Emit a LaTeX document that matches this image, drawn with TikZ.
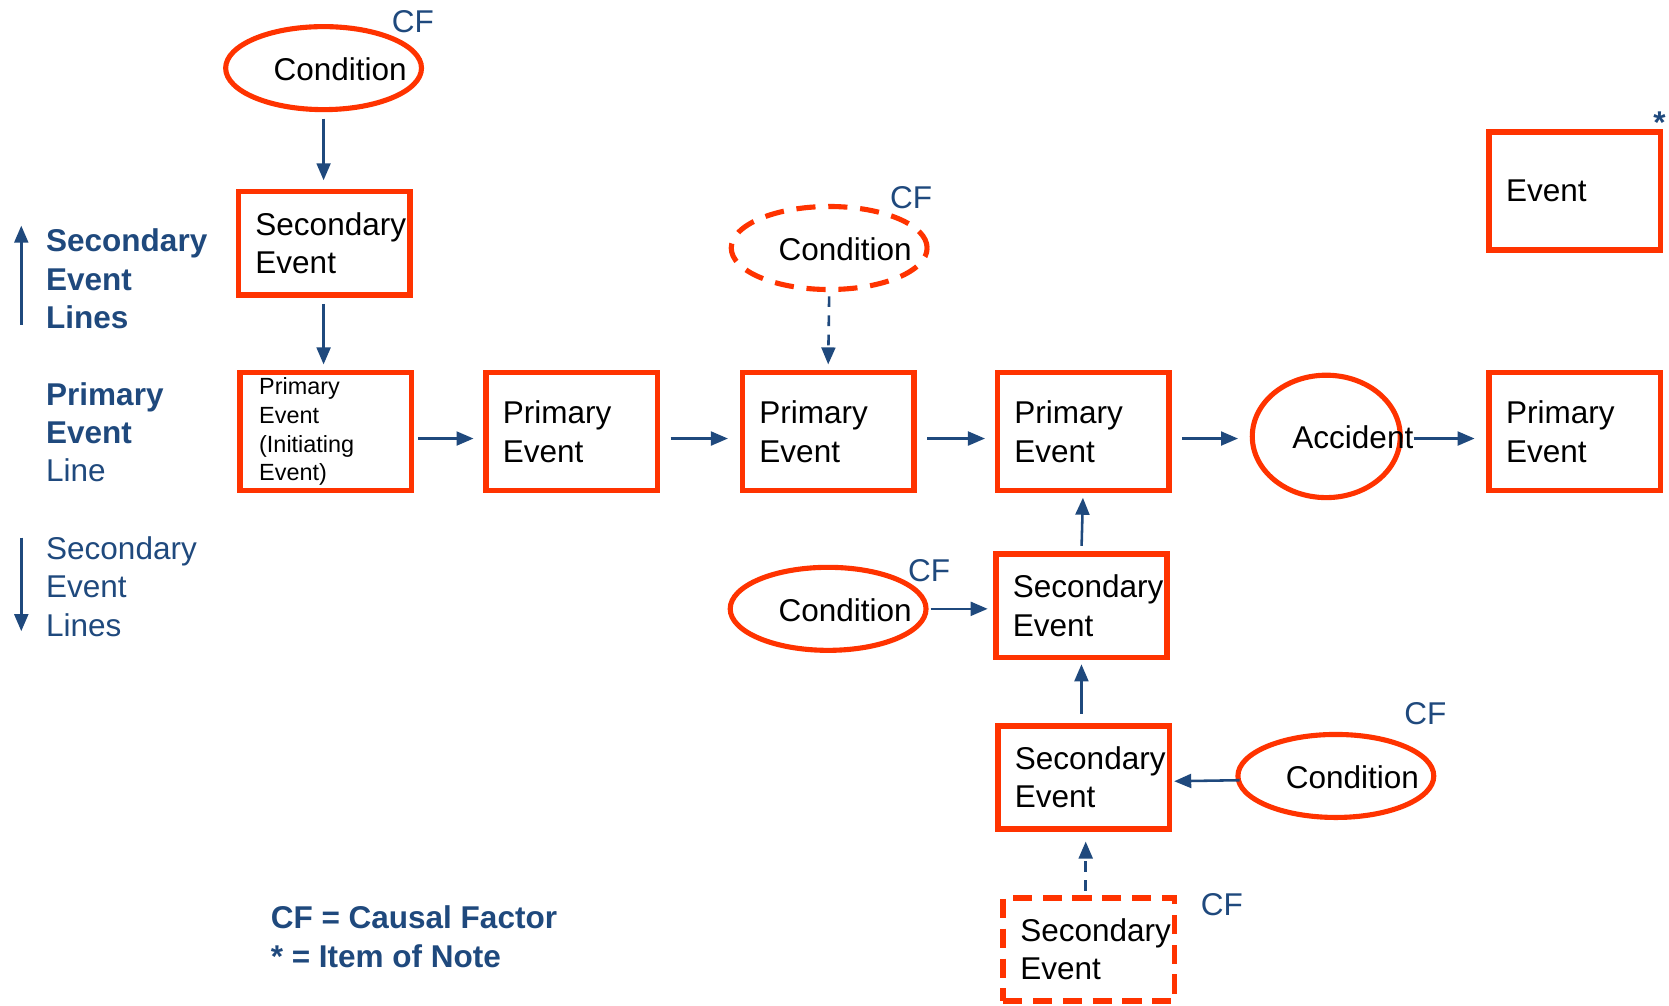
\documentclass[tikz,border=0pt]{standalone}
\usepackage{fontspec}
\setmainfont{Liberation Sans}
\usetikzlibrary{arrows.meta,shapes.geometric}
\definecolor{rcol}{RGB}{255,51,0}
\definecolor{bcol}{RGB}{31,73,125}
\begin{document}
\begin{tikzpicture}[x=0.5pt,y=-0.5pt,
  font=\fontsize{14.8pt}{18pt}\selectfont,
  evbox/.style={draw=rcol, line width=2.6pt, rectangle, minimum width=80.5pt,
    minimum height=55.5pt, text width=64.5pt, align=left, inner xsep=8pt, inner ysep=2pt},
  secbox/.style={evbox, minimum height=48.5pt},
  dashbox/.style={secbox, dash pattern=on 9pt off 5pt},
  cond/.style={draw=rcol, line width=2.4pt, ellipse, minimum width=92pt, minimum height=39pt, inner sep=0pt},
  dcond/.style={cond, dash pattern=on 9pt off 6pt},
  lbl/.style={inner sep=0pt, text=black},
  cf/.style={inner sep=0pt, text=bcol},
  leg/.style={inner sep=0pt, text=bcol, align=left, anchor=west},
  arr/.style={draw=bcol, line width=1.2pt, -{Triangle[length=8pt,width=6.5pt]}},
  darr/.style={arr, dash pattern=on 5pt off 4pt}
]
\useasboundingbox (0,0) rectangle (1568,945);

% ---- ellipses (conditions / accident)
\node[cond] (ct) at (304,64) {};
\node[lbl] (ctt) at (319.5,65) {Condition};
\node[cf] (cf1) at (388,20) {CF};

\node[dcond] (cd) at (779,233) {};
\node[lbl] (cdt) at (794,234) {Condition};
\node[cf] (cf2) at (856,186) {CF};

\node[cond] (cm) at (778,572) {};
\node[lbl] (cmt) at (794,573) {Condition};
\node[cf] (cf3) at (873,536) {CF};

\node[cond] (cr) at (1255,729) {};
\node[lbl] (crt) at (1270.5,730) {Condition};
\node[cf] (cf4) at (1339,670) {CF};

\node[cond, minimum width=69.5pt, minimum height=57.5pt] (acc) at (1246,410) {};
\node[lbl] (acct) at (1271,411) {Accident};

% ---- boxes
\node[secbox] (b0) at (304.5,228.5) {Secondary\\Event};
\node[evbox, font=\fontsize{11pt}{13.5pt}\selectfont, inner xsep=9pt, text width=62.5pt] (b1) at (306,405.5) {Primary\\Event\\(Initiating\\Event)};
\node[evbox] (b2) at (537,405.5) {Primary\\Event};
\node[evbox] (b3) at (778,405.5) {Primary\\Event};
\node[evbox] (b4) at (1017.5,405.5) {Primary\\Event};
\node[evbox] (b5) at (1479.5,405.5) {Primary\\Event};
\node[evbox] (ev) at (1479.5,179.5) {Event};
\node[cf, font=\bfseries\fontsize{14.8pt}{18pt}\selectfont] (ast) at (1559,115) {*};

\node[secbox] (sm) at (1016,569) {Secondary\\Event};
\node[secbox] (sl) at (1018,730.5) {Secondary\\Event};
\node[dashbox, minimum height=48.5pt, minimum width=80pt] (sd) at (1023,892) {Secondary\\Event};
\node[cf] (cf5) at (1148,850) {CF};

% ---- connectors
\draw[arr, shorten <=3pt, shorten >=4pt] (ct.south) -- (ct.south |- b0.north);
\draw[arr, shorten <=3pt, shorten >=2.5pt] (ct.south |- b0.south) -- (ct.south |- b1.north);
\draw[arr, shorten <=2pt, shorten >=4.5pt] ([yshift=-3.25pt]b1.east) -- ([yshift=-3.25pt]b2.west);
\draw[arr, shorten <=5pt, shorten >=5.5pt] ([yshift=-3.25pt]b2.east) -- ([yshift=-3.25pt]b3.west);
\draw[arr, shorten <=5pt, shorten >=4.5pt] ([yshift=-3.25pt]b3.east) -- ([yshift=-3.25pt]b4.west);
\draw[arr, shorten <=5pt, shorten >=5.5pt] ([yshift=-3.25pt]b4.east) -- ([yshift=-3.25pt]b4.east -| acc.west);
\draw[arr, shorten >=5.5pt] ([yshift=-0.5pt]acct.east) -- ([yshift=-0.5pt]acct.east -| b5.west);
\draw[darr, shorten <=2pt, shorten >=2.5pt] (cd.south) -- (b3.north);
\draw[arr, shorten <=2.5pt, shorten >=2pt] (sm.north) -- (b4.south);
\draw[arr, shorten <=1pt, shorten >=2.5pt] (cm.east) -- (cm.east -| sm.west);
\draw[arr, shorten <=4.5pt, shorten >=2pt] ([xshift=-1pt]sl.north) -- (sm.south);
\draw[arr, shorten >=1pt] ([yshift=-2pt,xshift=2pt]cr.west) -- ([yshift=-1.75pt]sl.east);
\draw[darr, shorten <=2pt, shorten >=4.5pt] ([xshift=-1.5pt]sd.north) -- ([xshift=1pt]sl.south);

% ---- legend
\coordinate (lu1) at (20,305);
\coordinate (lu2) at (20,212);
\coordinate (ld1) at (20,505);
\coordinate (ld2) at (20,593);
\draw[arr] (lu1) -- (lu2);
\draw[arr] (ld1) -- (ld2);
\node[leg] (l1) at (43,262) {\textbf{Secondary}\\\textbf{Event}\\\textbf{Lines}};
\node[leg] (l2) at (43,406) {\textbf{Primary}\\\textbf{Event}\\Line};
\node[leg] (l3) at (43,551) {Secondary\\Event\\Lines};
\node[leg] (l4) at (254,880) {\textbf{CF = Causal Factor}\\\textbf{* = Item of Note}};
\end{tikzpicture}
\end{document}
